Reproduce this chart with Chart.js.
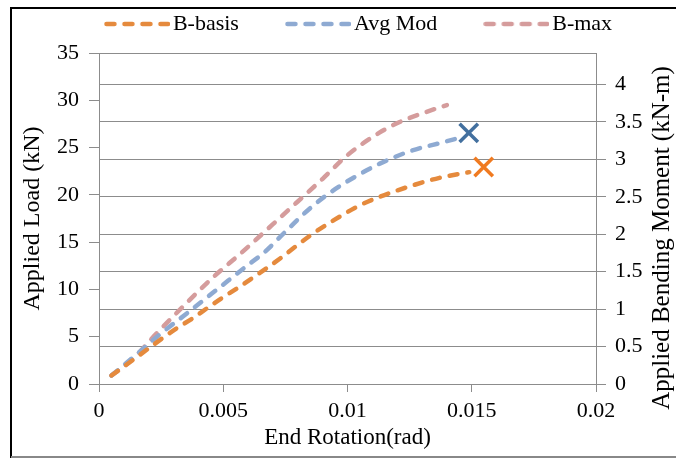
<!DOCTYPE html>
<html>
<head>
<meta charset="utf-8">
<script src="https://cdn.jsdelivr.net/npm/chart.js@4.4.1/dist/chart.umd.min.js"></script>
<style>
  html, body { margin: 0; padding: 0; background: #fff; }
  #wrap { width: 676px; height: 458px; position: relative; }
</style>
</head>
<body>
<div id="wrap"><canvas id="c" width="676" height="458"></canvas></div>
<script>
// Load–rotation curves (end rotation in rad, applied load in kN)
const seriesNames = ['B-basis', 'Avg Mod', 'B-max'];

const bBasisRot  = [0.0005, 0.0015, 0.00253, 0.00313, 0.00374, 0.00434, 0.00495, 0.00555, 0.0065, 0.0073, 0.0085, 0.0095, 0.0105, 0.0113, 0.0125, 0.0137, 0.0149];
const bBasisLoad = [0.9,    2.8,    4.8,     5.9,     6.9,     8.0,     9.1,     10.1,    11.8,   13.3,   15.7,   17.4,   18.9,   19.8,   20.9,   21.8,   22.4];

const avgModRot  = [0.0005, 0.0015, 0.00238, 0.0036, 0.0048, 0.006, 0.0066, 0.0075, 0.0085, 0.0095, 0.0105, 0.0113, 0.0125, 0.0139, 0.0146];
const avgModLoad = [0.9,    3.1,    5.1,     7.6,    10.1,   12.6,  13.8,   16.1,   18.6,   20.6,   22.2,   23.3,   24.6,   25.6,   26.1];

const bMaxRot    = [0.0005, 0.0013, 0.0023, 0.0035, 0.0046, 0.0057, 0.007, 0.008, 0.009, 0.010, 0.0113, 0.0121, 0.0131, 0.0140];
const bMaxLoad   = [0.9,    2.5,    5.3,    8.5,    11.3,   13.8,   16.9,  19.3,  21.7,  24.2,  26.6,   27.7,   28.7,   29.5];

// Failure points marked with an X
const bBasisFailure = { x: 0.01548, y: 22.95 };
const avgModFailure = { x: 0.01488, y: 26.55 };

// Axis ranges and tick spacing
const rotMin = 0, rotMax = 0.02, rotStep = 0.005;
const loadMin = 0, loadMax = 35, loadStep = 5;
const LEVER_ARM = 0.1263;          // m, load (kN) -> bending moment (kN-m)
const momentStep = 0.5;

const colors = {
  bBasis: '#E58A3D',
  avgMod: '#8EAAD2',
  bMax:   '#D59C9C',
  bBasisX: '#F07A20',
  avgModX: '#43709F',
  grid: '#8C8C8C'
};

const serif = "'Liberation Serif', 'Times New Roman', serif";
const LINE_W = 4.5, DASH = [8, 10];

const toPoints = (xs, ys) => xs.map((x, i) => ({ x, y: ys[i] }));
const trimNum = v => String(parseFloat(Number(v).toFixed(3)));

// Short dashed stroke used as the legend key of each curve
function dashKey(color) {
  const c = document.createElement('canvas');
  c.width = 66; c.height = 8;
  const g = c.getContext('2d');
  g.strokeStyle = color;
  g.lineWidth = LINE_W;
  g.lineCap = 'round';
  g.setLineDash(DASH);
  g.beginPath();
  g.moveTo(2.5, 4);
  g.lineTo(64, 4);
  g.stroke();
  return c;
}

const dashed = (label, xs, ys, color) => ({
  label,
  data: toPoints(xs, ys),
  borderColor: color,
  backgroundColor: 'rgba(0,0,0,0)',
  borderWidth: LINE_W,
  borderDash: DASH,
  borderCapStyle: 'round',
  pointRadius: 0,
  pointStyle: dashKey(color),
  cubicInterpolationMode: 'monotone',
  yAxisID: 'y'
});

const failureMark = (pt, color) => ({
  label: '',
  data: [pt],
  showLine: false,
  pointStyle: 'crossRot',
  pointRadius: 13,
  pointBorderWidth: 3.5,
  pointBorderColor: color,
  borderColor: color,
  backgroundColor: color,
  yAxisID: 'y',
  isMarker: true
});

// Figure frame, plot top edge, legend placement and secondary axis title
const framePlugin = {
  id: 'frame',
  afterLayout(chart) {
    const lg = chart.legend;
    lg.top -= 8; lg.bottom -= 8;
    lg.left += 18; lg.right += 18;
  },
  beforeDraw(chart) {
    const ctx = chart.ctx;
    ctx.save();
    ctx.fillStyle = '#fff';
    ctx.fillRect(0, 0, chart.width, chart.height);
    ctx.strokeStyle = '#000';
    ctx.lineWidth = 2;
    ctx.beginPath();
    ctx.moveTo(11, chart.height);
    ctx.lineTo(11, 8);
    ctx.lineTo(chart.width, 8);
    ctx.stroke();
    ctx.strokeStyle = '#888';
    ctx.beginPath();
    ctx.moveTo(11, chart.height - 1);
    ctx.lineTo(chart.width, chart.height - 1);
    ctx.stroke();
    ctx.restore();
  },
  afterDatasetsDraw(chart) {
    const a = chart.chartArea, ctx = chart.ctx;
    ctx.save();
    ctx.strokeStyle = colors.grid;
    ctx.lineWidth = 1;
    ctx.beginPath();
    ctx.moveTo(a.left, Math.round(a.top) + 0.5);
    ctx.lineTo(a.right, Math.round(a.top) + 0.5);
    ctx.stroke();
    ctx.restore();
  },
  afterDraw(chart) {
    const ctx = chart.ctx;
    ctx.save();
    ctx.translate(662, 238);
    ctx.rotate(-Math.PI / 2);
    ctx.fillStyle = '#000';
    ctx.font = '25px ' + serif;
    ctx.textAlign = 'center';
    ctx.textBaseline = 'middle';
    ctx.fillText('Applied Bending Moment (kN-m)', 0, 0);
    ctx.restore();
  }
};

new Chart(document.getElementById('c'), {
  type: 'line',
  data: {
    datasets: [
      dashed(seriesNames[0], bBasisRot, bBasisLoad, colors.bBasis),
      dashed(seriesNames[1], avgModRot, avgModLoad, colors.avgMod),
      dashed(seriesNames[2], bMaxRot, bMaxLoad, colors.bMax),
      failureMark(avgModFailure, colors.avgModX),
      failureMark(bBasisFailure, colors.bBasisX)
    ]
  },
  options: {
    responsive: false,
    animation: false,
    layout: { padding: { left: 12, right: 0, top: -33, bottom: 0 } },
    plugins: {
      tooltip: { enabled: false },
      legend: {
        position: 'top',
        labels: {
          filter: (item, data) => !data.datasets[item.datasetIndex].isMarker,
          usePointStyle: true,
          pointStyleWidth: 50,
          padding: 54,
          color: '#000',
          font: { family: serif, size: 22 }
        }
      }
    },
    scales: {
      x: {
        type: 'linear',
        min: rotMin, max: rotMax,
        afterFit: s => { s.height = 74; },
        ticks: {
          stepSize: rotStep,
          color: '#000',
          padding: 6,
          font: { family: serif, size: 22 },
          callback: v => trimNum(v)
        },
        grid: { drawOnChartArea: false, drawTicks: true, tickLength: 8, color: colors.grid },
        border: { color: colors.grid, width: 1 },
        title: {
          display: true,
          text: 'End Rotation(rad)',
          color: '#000',
          font: { family: serif, size: 23 },
          padding: { top: 0, bottom: 6 }
        }
      },
      y: {
        type: 'linear',
        position: 'left',
        min: loadMin, max: loadMax,
        afterFit: s => { s.width = 87; },
        ticks: {
          stepSize: loadStep,
          color: '#000',
          padding: 10,
          font: { family: serif, size: 22 }
        },
        grid: { drawOnChartArea: false, drawTicks: true, tickLength: 10, color: colors.grid },
        border: { color: colors.grid, width: 1 },
        title: {
          display: true,
          text: 'Applied Load (kN)',
          color: '#000',
          font: { family: serif, size: 24 },
          padding: { top: 6, bottom: 0 }
        }
      },
      y2: {
        type: 'linear',
        position: 'right',
        min: loadMin * LEVER_ARM, max: loadMax * LEVER_ARM,
        afterFit: s => { s.width = 80; },
        afterBuildTicks: s => {
          s.ticks = s.ticks.filter(t => Math.abs(t.value / momentStep - Math.round(t.value / momentStep)) < 1e-6);
        },
        ticks: {
          stepSize: momentStep,
          color: '#000',
          padding: 9,
          font: { family: serif, size: 22 },
          callback: v => trimNum(v)
        },
        grid: { drawOnChartArea: true, drawTicks: true, tickLength: 10, color: colors.grid },
        border: { color: colors.grid, width: 1 }
      }
    }
  },
  plugins: [framePlugin]
});
</script>
</body>
</html>
